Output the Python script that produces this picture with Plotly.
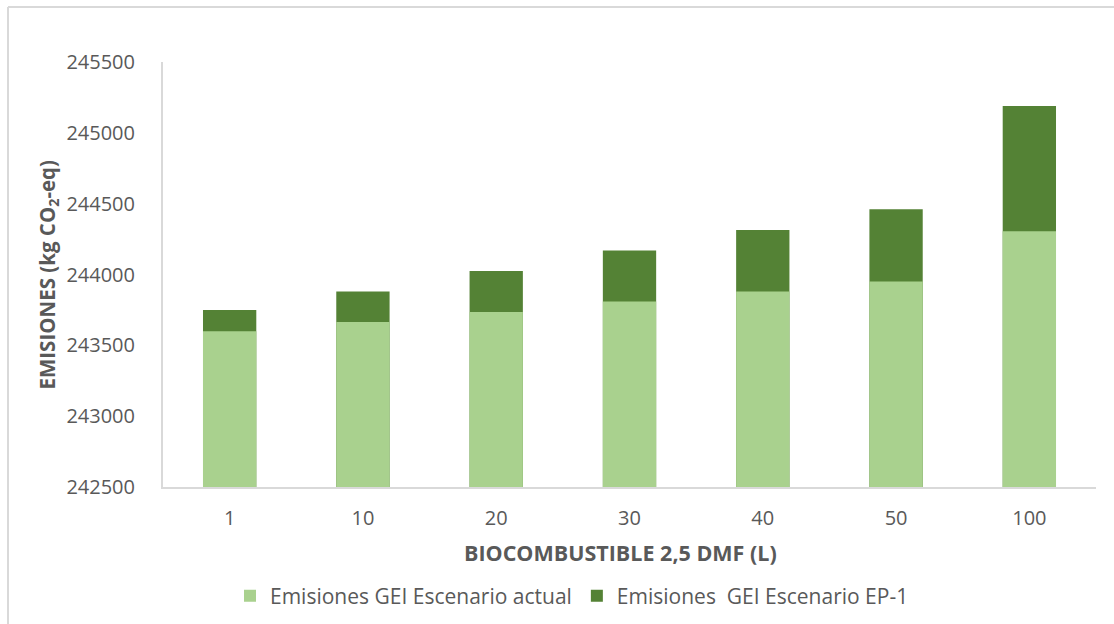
import plotly.graph_objects as go

# ── Data ─────────────────────────────────────────────────────────────────────
categories = ["1", "10", "20", "30", "40", "50", "100"]
actual_vals = [243600, 243665, 243735, 243810, 243880, 243950, 244305]
ep1_vals = [243750, 243880, 244025, 244170, 244315, 244460, 245190]
y_ticks = [242500, 243000, 243500, 244000, 244500, 245000, 245500]

# ── Style ────────────────────────────────────────────────────────────────────
LIGHT = "#A9D18E"
DARK = "#548235"
TEXT = "#595959"
AXIS = "#D9D9D9"
FONT = "'Open Sans', Lato, sans-serif"

W, H = 1114, 624
L, R, T, B = 163, 18, 62, 137
PW, PH = W - L - R, H - T - B


def px_x(x):
    return (x - L) / PW


def px_y(y):
    return (H - B - y) / PH


fig = go.Figure()

# EP-1 totals drawn behind, actual scenario in front (overlapped columns)
fig.add_trace(go.Bar(
    x=categories, y=ep1_vals,
    name="Emisiones  GEI Escenario EP-1",
    marker=dict(color=DARK, line=dict(width=0)),
    width=0.4, legendrank=2,
))
fig.add_trace(go.Bar(
    x=categories, y=actual_vals,
    name="Emisiones GEI Escenario actual",
    marker=dict(color=LIGHT, line=dict(width=0)),
    width=0.4, legendrank=1,
))

fig.update_layout(
    width=W, height=H,
    barmode="overlay",
    paper_bgcolor="white",
    plot_bgcolor="white",
    font=dict(family=FONT, color=TEXT, size=20),
    margin=dict(l=L, r=R, t=T, b=B, autoexpand=False),
    xaxis=dict(
        type="category", showgrid=False,
        showline=True, linecolor=AXIS, linewidth=2,
        ticks="", ticklabelstandoff=12,
        tickfont=dict(size=20, color=TEXT),
    ),
    yaxis=dict(
        range=[242500, 245500], tickvals=y_ticks, tickformat="d",
        showgrid=False, zeroline=False,
        showline=True, linecolor=AXIS, linewidth=2,
        ticks="", ticklabelstandoff=22,
        tickfont=dict(size=20, color=TEXT),
    ),
    legend=dict(
        orientation="h", x=px_x(572), xanchor="center",
        y=px_y(596), yanchor="middle",
        font=dict(size=21, color=TEXT),
        itemwidth=30, traceorder="normal",
    ),
    annotations=[
        dict(text="<b>EMISIONES (kg CO<sub>2</sub>-eq)</b>",
             xref="paper", yref="paper", x=px_x(47), y=0.5,
             textangle=-90, showarrow=False,
             xanchor="center", yanchor="middle",
             font=dict(size=20.5, color=TEXT)),
        dict(text="<b>BIOCOMBUSTIBLE 2,5 DMF (L)</b>",
             xref="paper", yref="paper", x=px_x(620), y=px_y(552),
             showarrow=False, xanchor="center", yanchor="middle",
             font=dict(size=21.5, color=TEXT)),
    ],
    shapes=[
        dict(type="line", xref="paper", yref="paper",
             x0=px_x(8), x1=px_x(8), y0=px_y(7), y1=px_y(H + 5),
             line=dict(color=AXIS, width=2)),
        dict(type="line", xref="paper", yref="paper",
             x0=px_x(8), x1=px_x(W + 5), y0=px_y(7), y1=px_y(7),
             line=dict(color=AXIS, width=2)),
    ],
)

fig.write_html("out.html", config={"displayModeBar": False},
               post_script="document.body.style.margin='0';")
